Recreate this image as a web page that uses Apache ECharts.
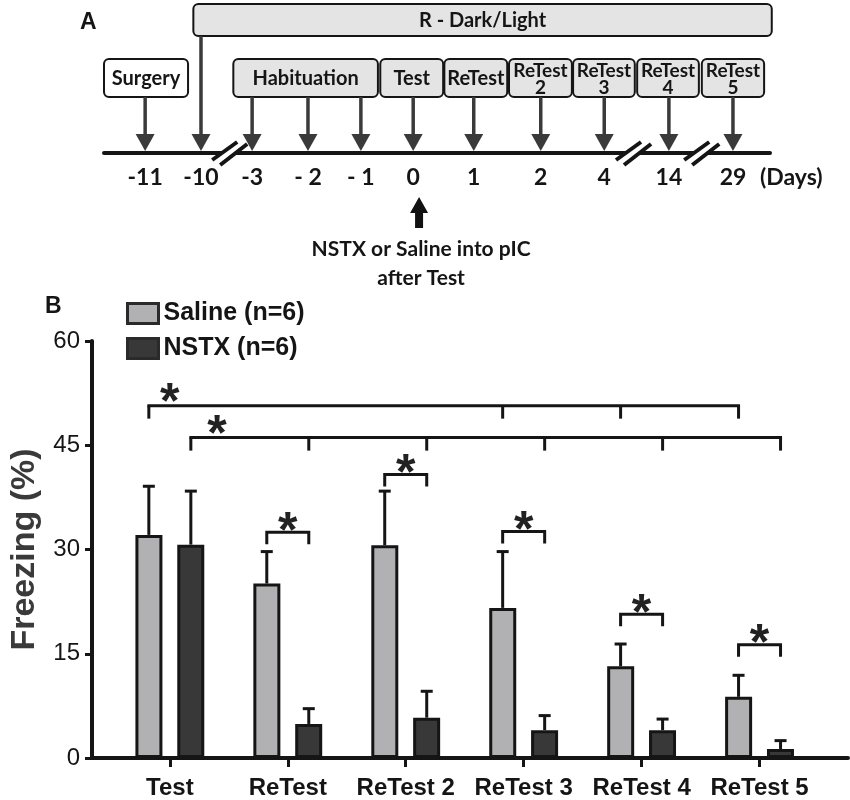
<!DOCTYPE html>
<html>
<head>
<meta charset="utf-8">
<script src="https://cdn.jsdelivr.net/npm/echarts@6/dist/echarts.min.js"></script>
<style>
  html, body { margin: 0; padding: 0; background: #fff; }
  #chart { width: 850px; height: 800px; }
</style>
</head>
<body>
<div id="chart"></div>
<script>
// ---- Panel A: timeline (positions along the drawn timeline, -11 day = 0, 29 day = 10)
const dayLabels = ["-11", "-10", "-3", "- 2", "- 1", "0", "1", "2", "4", "14", "29"]
const dayPos = [0, 0.95, 1.82, 2.77, 3.67, 4.56, 5.59, 6.73, 7.81, 8.91, 10]
const arrowFromTop = [0, 1, 0, 0, 0, 0, 0, 0, 0, 0, 0]
const timelineMin = -0.7
const timelineMax = 10.63
const boxLabels = ["R - Dark/Light", "Surgery", "Habituation", "Test", "ReTest", "ReTest\n2", "ReTest\n3", "ReTest\n4", "ReTest\n5"]
const boxStart = [0.82, -0.7, 1.5, 4.0, 5.09, 6.19, 7.28, 8.37, 9.47]
const boxEnd = [10.66, 0.73, 3.96, 5.07, 6.16, 7.26, 8.33, 9.42, 10.53]
const boxTopRow = [1, 0, 0, 0, 0, 0, 0, 0, 0]
const breakPos = [1.43, 8.3, 9.46]
const injectionPos = 4.66
const injectionText = ["NSTX or Saline into pIC", "after Test"]

// ---- Panel B: freezing (%)
const categories = ["Test", "ReTest", "ReTest 2", "ReTest 3", "ReTest 4", "ReTest 5"]
const salineMean = [32.1, 25.1, 30.6, 21.6, 13.2, 8.8]
const salineSem = [7.0, 4.6, 7.8, 8.1, 3.2, 3.1]
const nstxMean = [30.7, 4.9, 5.8, 4.0, 4.0, 1.3]
const nstxSem = [7.7, 2.2, 3.8, 2.1, 1.6, 1.2]
const pairSigLevel = [null, 32.5, 40.8, 32.6, 20.7, 16.3]
const longSigLevel = [50.7, 46.1]
const longSigGroup = [0, 1]
const longSigLegs = [[0, 3, 4, 5], [0, 1, 2, 3, 4, 5]]
const longSigStar = [0, 0.4]

const fontA = "Lato"
const fontB = "'Liberation Sans', Arial, sans-serif"
const ink = "#151515"
const pairOffset = 21

const chart = echarts.init(document.getElementById("chart"))

function baseY(api) {
    return api.coord([0, 0])[1]
}

function renderBox(params, api) {
    const i = params.dataIndex
    const x0 = api.coord([api.value(0), 0])[0]
    const x1 = api.coord([api.value(1), 0])[0]
    const base = baseY(api)
    const top = base + (api.value(2) ? -149 : -94)
    const bottom = base + (api.value(2) ? -117 : -56)
    const twoLine = boxLabels[i].indexOf("\n") >= 0
    return {
        type: "group",
        children: [
            {
                type: "rect",
                shape: { x: x0, y: top, width: x1 - x0, height: bottom - top, r: 5 },
                style: { fill: i === 1 ? "#fff" : "#e4e4e4", stroke: ink, lineWidth: 2 },
            },
            {
                type: "text",
                style: {
                    text: boxLabels[i],
                    x: (x0 + x1) / 2,
                    y: (top + bottom) / 2 + 1,
                    align: "center",
                    verticalAlign: "middle",
                    fontFamily: fontA,
                    fontWeight: "bold",
                    fontSize: twoLine ? 19 : 20,
                    lineHeight: 17,
                    fill: ink,
                },
            },
        ],
    }
}

function renderArrow(params, api) {
    const x = api.coord([api.value(0), 0])[0]
    const base = baseY(api)
    const start = base + (api.value(1) ? -117 : -56)
    const tip = base - 2
    const head = tip - 17
    return {
        type: "group",
        children: [
            { type: "line", shape: { x1: x, y1: start, x2: x, y2: head + 1 }, style: { stroke: "#3a3a3a", lineWidth: 3.5 } },
            { type: "polygon", shape: { points: [[x - 9.5, head], [x + 9.5, head], [x, tip]] }, style: { fill: "#3a3a3a" } },
        ],
    }
}

function renderBreak(params, api) {
    const cx = api.coord([api.value(0), 0])[0]
    const cy = baseY(api)
    return {
        type: "group",
        children: [
            { type: "polygon", shape: { points: [[cx - 17, cy + 7], [cx + 8, cy - 11], [cx + 18, cy - 9], [cx - 9, cy + 12]] }, style: { fill: "#fff" } },
            { type: "line", shape: { x1: cx - 17, y1: cy + 7, x2: cx + 8, y2: cy - 11 }, style: { stroke: ink, lineWidth: 4 } },
            { type: "line", shape: { x1: cx - 9, y1: cy + 12, x2: cx + 18, y2: cy - 9 }, style: { stroke: ink, lineWidth: 4 } },
        ],
    }
}

function renderInjection(params, api) {
    const x = api.coord([api.value(0), 0])[0]
    const base = baseY(api)
    const tip = base + 44
    const head = base + 60
    const bottom = base + 75
    const textStyle = { align: "center", verticalAlign: "middle", fontFamily: fontA, fontWeight: "bold", fontSize: 21, fill: ink }
    return {
        type: "group",
        children: [
            {
                type: "polygon",
                shape: { points: [[x, tip], [x + 9, head], [x + 4, head], [x + 4, bottom], [x - 4, bottom], [x - 4, head], [x - 9, head]] },
                style: { fill: "#111" },
            },
            { type: "text", style: Object.assign({ text: injectionText[0], x: x + 2, y: base + 96 }, textStyle) },
            { type: "text", style: Object.assign({ text: injectionText[1], x: x + 2, y: base + 125 }, textStyle) },
        ],
    }
}

function renderError(params, api) {
    const p0 = api.coord([api.value(0), api.value(1)])
    const p1 = api.coord([api.value(0), api.value(1) + api.value(2)])
    const x = p0[0] + (api.value(3) ? pairOffset : -pairOffset)
    return {
        type: "group",
        children: [
            { type: "line", shape: { x1: x, y1: p0[1], x2: x, y2: p1[1] }, style: { stroke: ink, lineWidth: 3 } },
            { type: "line", shape: { x1: x - 6, y1: p1[1], x2: x + 6, y2: p1[1] }, style: { stroke: ink, lineWidth: 3 } },
        ],
    }
}

function star(x, y) {
    return {
        type: "text",
        style: { text: "*", x: x, y: y, align: "center", verticalAlign: "middle", fontFamily: fontB, fontWeight: "bold", fontSize: 50, fill: "#222" },
    }
}

function renderPairSig(params, api) {
    const p = api.coord([api.value(0), api.value(1)])
    const x0 = p[0] - pairOffset
    const x1 = p[0] + pairOffset
    const y = p[1]
    return {
        type: "group",
        children: [
            { type: "polyline", shape: { points: [[x0, y + 12], [x0, y], [x1, y], [x1, y + 12]] }, style: { stroke: ink, lineWidth: 3, fill: null } },
            star((x0 + x1) / 2, y + 1),
        ],
    }
}

function renderLongSig(params, api) {
    const i = params.dataIndex
    const level = api.value(1)
    const off = api.value(2) ? pairOffset : -pairOffset
    const xs = longSigLegs[i].map(c => api.coord([c, level])[0] + off)
    const y = api.coord([0, level])[1]
    const children = [
        { type: "line", shape: { x1: xs[0] - 1.5, y1: y, x2: xs[xs.length - 1] + 1.5, y2: y }, style: { stroke: ink, lineWidth: 3 } },
    ]
    xs.forEach(x => {
        children.push({ type: "line", shape: { x1: x, y1: y, x2: x, y2: y + 13 }, style: { stroke: ink, lineWidth: 3 } })
    })
    const s = api.coord([api.value(0), level])
    children.push(star(s[0], y - 1.5))
    return { type: "group", children: children }
}

const errorData = []
categories.forEach((c, i) => {
    errorData.push([i, salineMean[i], salineSem[i], 0])
    errorData.push([i, nstxMean[i], nstxSem[i], 1])
})
const pairSigData = []
pairSigLevel.forEach((v, i) => {
    if (v !== null) pairSigData.push([i, v])
})

const option = {
    animation: false,
    textStyle: { fontFamily: fontB },
    graphic: [
        { type: "text", left: 80, top: 11, style: { text: "A", fontFamily: fontB, fontWeight: "bold", fontSize: 23, fill: ink } },
        { type: "text", left: 45, top: 295, style: { text: "B", fontFamily: fontB, fontWeight: "bold", fontSize: 23, fill: ink } },
    ],
    legend: {
        orient: "vertical",
        left: 121,
        top: 296,
        icon: "rect",
        itemWidth: 31,
        itemHeight: 20,
        itemGap: 10,
        data: ["Saline (n=6)", "NSTX (n=6)"],
        itemStyle: { borderColor: "#2a2a2a", borderWidth: 3 },
        textStyle: { fontFamily: fontB, fontWeight: "bold", fontSize: 25, color: ink, lineHeight: 25 },
    },
    grid: [
        { left: 104, right: 80, top: 100, height: 53 },
        { left: 87, right: 2, top: 341, bottom: 42 },
    ],
    xAxis: [
        {
            gridIndex: 0,
            type: "value",
            min: timelineMin,
            max: timelineMax,
            splitLine: { show: false },
            axisTick: { show: false },
            axisLine: { show: true, onZero: false, lineStyle: { color: ink, width: 4 } },
            axisLabel: {
                customValues: dayPos,
                formatter: v => dayLabels[dayPos.indexOf(v)],
                margin: 13,
                fontFamily: fontA,
                fontWeight: "bold",
                fontSize: 23,
                color: ink,
            },
            name: "(Days)",
            nameLocation: "end",
            nameGap: -10,
            nameTextStyle: { fontFamily: fontA, fontWeight: "bold", fontSize: 23, color: ink, verticalAlign: "top", padding: [13, 0, 0, 0] },
        },
        {
            gridIndex: 1,
            type: "value",
            min: -0.66,
            max: 5.75,
            splitLine: { show: false },
            axisLine: { show: true, onZero: false, lineStyle: { color: ink, width: 4 } },
            axisTick: { show: true, customValues: [0, 1, 2, 3, 4, 5], length: 9, lineStyle: { color: ink, width: 3 } },
            axisLabel: {
                customValues: [0, 1, 2, 3, 4, 5],
                formatter: v => categories[v],
                margin: 18,
                fontFamily: fontB,
                fontWeight: "bold",
                fontSize: 24,
                color: ink,
            },
        },
    ],
    yAxis: [
        { gridIndex: 0, type: "value", min: 0, max: 1, show: false },
        {
            gridIndex: 1,
            type: "value",
            min: 0,
            max: 60,
            interval: 15,
            splitLine: { show: false },
            axisLine: { show: true, onZero: false, lineStyle: { color: ink, width: 4 } },
            axisTick: { show: true, length: 7, lineStyle: { color: ink, width: 3 } },
            axisLabel: { margin: 12, fontFamily: fontB, fontSize: 24, color: ink },
            name: "Freezing (%)",
            nameLocation: "middle",
            nameGap: 50,
            nameTextStyle: { fontFamily: fontB, fontWeight: "bold", fontSize: 34, color: "#3a3a3a" },
        },
    ],
    series: [
        {
            type: "custom",
            xAxisIndex: 0,
            yAxisIndex: 0,
            renderItem: renderBox,
            data: boxLabels.map((b, i) => [boxStart[i], boxEnd[i], boxTopRow[i]]),
            encode: { x: [0, 1] },
            silent: true,
        },
        {
            type: "custom",
            xAxisIndex: 0,
            yAxisIndex: 0,
            renderItem: renderArrow,
            data: dayPos.map((p, i) => [p, arrowFromTop[i]]),
            silent: true,
        },
        {
            type: "custom",
            xAxisIndex: 0,
            yAxisIndex: 0,
            renderItem: renderBreak,
            data: breakPos.map(p => [p, 0]),
            silent: true,
        },
        {
            type: "custom",
            xAxisIndex: 0,
            yAxisIndex: 0,
            renderItem: renderInjection,
            data: [[injectionPos, 0]],
            silent: true,
        },
        {
            name: "Saline (n=6)",
            type: "bar",
            xAxisIndex: 1,
            yAxisIndex: 1,
            barWidth: 27,
            barGap: "55%",
            data: salineMean.map((v, i) => [i, v]),
            itemStyle: { color: "#b1b1b3", borderColor: ink, borderWidth: 3 },
        },
        {
            name: "NSTX (n=6)",
            type: "bar",
            xAxisIndex: 1,
            yAxisIndex: 1,
            barWidth: 27,
            barGap: "55%",
            data: nstxMean.map((v, i) => [i, v]),
            itemStyle: { color: "#383838", borderColor: ink, borderWidth: 3 },
        },
        {
            type: "custom",
            xAxisIndex: 1,
            yAxisIndex: 1,
            renderItem: renderError,
            data: errorData,
            z: 3,
            silent: true,
        },
        {
            type: "custom",
            xAxisIndex: 1,
            yAxisIndex: 1,
            renderItem: renderPairSig,
            data: pairSigData,
            z: 3,
            silent: true,
        },
        {
            type: "custom",
            xAxisIndex: 1,
            yAxisIndex: 1,
            renderItem: renderLongSig,
            data: longSigLevel.map((v, i) => [longSigStar[i], v, longSigGroup[i]]),
            z: 3,
            silent: true,
        },
    ],
}

chart.setOption(option)
</script>
</body>
</html>
